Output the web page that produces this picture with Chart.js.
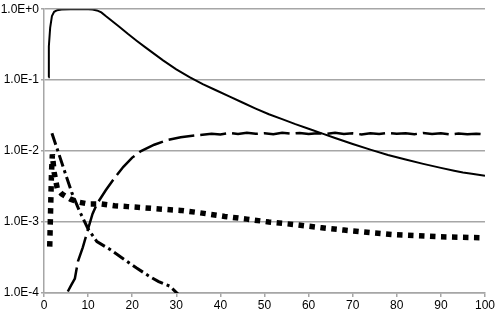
<!DOCTYPE html>
<html>
<head>
<meta charset="utf-8">
<script src="https://cdn.jsdelivr.net/npm/chart.js@4.4.1/dist/chart.umd.min.js"></script>
<style>
  html, body { margin: 0; padding: 0; background: #fff; }
  #wrap { width: 496px; height: 311px; position: relative; }
</style>
</head>
<body>
<div id="wrap"><canvas id="c" width="496" height="311"></canvas></div>
<script>
// ---- Data ----
const xTicks = [0, 10, 20, 30, 40, 50, 60, 70, 80, 90, 100];
const yTickValues = [1e-4, 1e-3, 1e-2, 1e-1, 1];

// Solid line
const solidX = [1.0, 1.1, 1.4, 1.8, 2.3, 3.0, 4.0, 6, 8, 10, 11, 12, 13, 14, 15, 17, 19, 21, 23, 25, 27, 30, 33, 36, 39, 42, 45, 48, 51, 54, 57, 60, 63, 66, 70, 74, 78, 82, 86, 90, 93, 95, 97, 100];
const solidY = [0.11, 0.3, 0.55, 0.8, 0.92, 0.97, 0.99, 1.0, 1.0, 1.0, 0.99, 0.96, 0.9, 0.80, 0.715, 0.57, 0.45, 0.36, 0.29, 0.235, 0.19, 0.142, 0.110, 0.088, 0.072, 0.0589, 0.0484, 0.0398, 0.0331, 0.0282, 0.0240, 0.0207, 0.0178, 0.0153, 0.0126, 0.0105, 0.0088, 0.0076, 0.0066, 0.0058, 0.0053, 0.0050, 0.0048, 0.0045];

// Long-dash line (rising, then flat and noisy)
const dashX = [5.4, 6.2, 7.0, 7.7, 8.8, 10, 11, 12, 14, 16, 18, 20, 22, 25, 28, 31, 35, 38, 40, 42, 44, 46, 48, 50, 52, 54, 56, 58, 60, 62, 64, 66, 68, 70, 72, 74, 76, 78, 80, 82, 84, 86, 88, 90, 92, 94, 96, 98, 100];
const dashY = [1.05e-4, 1.3e-4, 1.6e-4, 2.8e-4, 4.4e-4, 8e-4, 1.3e-3, 1.8e-3, 2.8e-3, 4.2e-3, 6.0e-3, 8.1e-3, 0.0100, 0.0123, 0.0143, 0.0157, 0.0168, 0.0175, 0.0172, 0.0180, 0.0174, 0.0181, 0.0175, 0.0179, 0.0173, 0.0181, 0.0176, 0.0180, 0.0174, 0.0179, 0.0175, 0.0181, 0.0174, 0.0178, 0.0172, 0.0179, 0.0174, 0.0180, 0.0175, 0.0178, 0.0173, 0.0180, 0.0174, 0.0178, 0.0172, 0.0177, 0.0173, 0.0176, 0.0172];

// Dash-dot line (falling)
const dashDotX = [1.8, 3.0, 4.5, 6.3, 8.0, 10, 12, 15, 18.8, 21, 24, 26, 28.5, 30.5];
const dashDotY = [0.0178, 0.0107, 5.6e-3, 2.6e-3, 1.45e-3, 8.0e-4, 5.3e-4, 4.1e-4, 2.8e-4, 2.25e-4, 1.7e-4, 1.45e-4, 1.25e-4, 9.5e-5];

// Square-dot line
const squareX = [1.3, 1.5, 1.7, 1.9, 2.3, 3.0, 4.0, 6, 8, 10, 13, 16, 19, 22, 25, 28, 31, 35, 41, 46, 51, 57, 63, 68, 74, 80, 85, 90, 95, 100];
const squareY = [4.5e-4, 1.5e-3, 5e-3, 9e-3, 5e-3, 3.0e-3, 2.5e-3, 2.1e-3, 1.9e-3, 1.8e-3, 1.8e-3, 1.7e-3, 1.65e-3, 1.6e-3, 1.55e-3, 1.5e-3, 1.46e-3, 1.36e-3, 1.2e-3, 1.1e-3, 1.0e-3, 9.2e-4, 8.3e-4, 7.7e-4, 7.1e-4, 6.6e-4, 6.4e-4, 6.2e-4, 6.1e-4, 6.0e-4];

const pts = (xs, ys) => xs.map((x, i) => ({ x: x, y: ys[i] }));

const GRID = '#a6a6a6';
const FONT = { family: 'Liberation Sans, Arial, sans-serif', size: 12 };

new Chart(document.getElementById('c'), {
  type: 'scatter',
  data: {
    datasets: [
      { data: pts(solidX, solidY), showLine: true, borderColor: '#000', borderWidth: 2, pointRadius: 0, tension: 0 },
      { data: pts(dashX, dashY), showLine: true, borderColor: '#000', borderWidth: 2.5, borderDash: [26, 6], pointRadius: 0, tension: 0 },
      { data: pts(dashDotX, dashDotY), showLine: true, borderColor: '#000', borderWidth: 3, borderDash: [12, 4, 3, 4], pointRadius: 0, tension: 0 },
      { data: pts(squareX, squareY), showLine: true, borderColor: '#000', borderWidth: 5.5, borderDash: [5.5, 5.5], borderCapStyle: 'butt', pointRadius: 0, tension: 0 }
    ]
  },
  options: {
    responsive: false,
    animation: false,
    events: [],
    layout: { padding: { top: 6, right: 10, left: 0, bottom: 0 } },
    plugins: { legend: { display: false }, tooltip: { enabled: false } },
    scales: {
      x: {
        type: 'linear',
        min: 0, max: 100,
        afterBuildTicks: (s) => { s.ticks = xTicks.map(v => ({ value: v })); },
        afterFit: (s) => { s.height = 18; },
        ticks: { color: '#000', font: FONT, padding: 1, maxRotation: 0, autoSkip: false },
        grid: { drawOnChartArea: false, color: GRID, lineWidth: 1.5, tickLength: 4 },
        border: { color: GRID, width: 1.5 }
      },
      y: {
        type: 'logarithmic',
        min: 1e-4, max: 1,
        afterBuildTicks: (s) => { s.ticks = yTickValues.map(v => ({ value: v })); },
        afterFit: (s) => { s.width = 44; },
        ticks: {
          color: '#000', font: FONT, padding: 2, autoSkip: false,
          callback: (v) => {
            const e = Math.round(Math.log10(v));
            return '1.0E' + (e >= 0 ? '+' : '-') + Math.abs(e);
          }
        },
        grid: { color: GRID, lineWidth: 1.5, tickLength: 3 },
        border: { color: GRID, width: 1.5 }
      }
    }
  }
});
</script>
</body>
</html>
